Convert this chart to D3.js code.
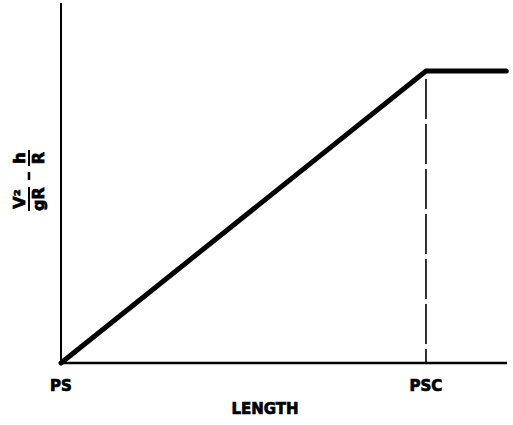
<!DOCTYPE html>
<html>
<head>
<meta charset="utf-8">
<script src="https://cdn.jsdelivr.net/npm/d3@7"></script>
<style>
body { margin: 0; background: #fff; }
text { font-family: "DejaVu Sans", sans-serif; font-weight: bold; fill: #000; stroke: #000; stroke-width: 0.7px; }
</style>
</head>
<body>
<script>
// curve: rises linearly from PS to PSC, then stays flat
var lengthPts = [0, 1, 1.22];
var ratioPts = [0, 1, 1];
var tickNames = ["PS", "PSC"];
var tickPos = [0, 1];

var w = 513, h = 425;
var svg = d3.select("body").append("svg")
    .attr("width", w)
    .attr("height", h);

var x = d3.scaleLinear().domain([0, 1.222]).range([61, 507]);
var y = d3.scaleLinear().domain([0, 1]).range([363, 71]);

// axes (plain lines, no ticks)
svg.append("line")
    .attr("x1", x(0)).attr("x2", x(0))
    .attr("y1", y(0)).attr("y2", y(1.233))
    .attr("stroke", "#000").attr("stroke-width", 2);
svg.append("line")
    .attr("x1", x(0)).attr("x2", x(1.222))
    .attr("y1", y(0)).attr("y2", y(0))
    .attr("stroke", "#000").attr("stroke-width", 2.5);

// dashed drop line at PSC
svg.append("line")
    .attr("x1", x(1)).attr("x2", x(1))
    .attr("y1", y(1) + 8).attr("y2", y(0))
    .attr("stroke", "#000").attr("stroke-width", 1.6)
    .attr("stroke-dasharray", "40,5");

var pts = lengthPts.map(function(d, i) { return [d, ratioPts[i]]; });
svg.append("path")
    .attr("d", d3.line().x(function(d) { return x(d[0]); }).y(function(d) { return y(d[1]); })(pts))
    .attr("fill", "none")
    .attr("stroke", "#000")
    .attr("stroke-width", 5)
    .attr("stroke-linecap", "round");

svg.selectAll(".tk")
    .data(tickNames)
    .enter()
    .append("text")
    .attr("class", "tk")
    .attr("x", function(d, i) { return x(tickPos[i]); })
    .attr("y", 391)
    .attr("text-anchor", "middle")
    .attr("font-size", 15)
    .text(function(d) { return d; });

svg.append("text")
    .attr("x", 265)
    .attr("y", 414)
    .attr("text-anchor", "middle")
    .attr("font-size", 15)
    .text("LENGTH");

// y label: V²/gR − h/R, rotated
var g = svg.append("g").attr("transform", "translate(29,178) rotate(-90)");
function frac(cx, num, den, hw) {
    g.append("text").attr("x", cx).attr("y", -4).attr("text-anchor", "middle")
        .attr("font-size", 16).text(num);
    g.append("text").attr("x", cx).attr("y", 15).attr("text-anchor", "middle")
        .attr("font-size", 16).text(den);
    g.append("line").attr("x1", cx - hw).attr("x2", cx + hw)
        .attr("y1", 0).attr("y2", 0)
        .attr("stroke", "#000").attr("stroke-width", 2);
}
frac(-21, "V²", "gR", 12);
frac(20, "h", "R", 8);
g.append("line").attr("x1", -2).attr("x2", 6)
    .attr("y1", 0).attr("y2", 0)
    .attr("stroke", "#000").attr("stroke-width", 2.5);
</script>
</body>
</html>
